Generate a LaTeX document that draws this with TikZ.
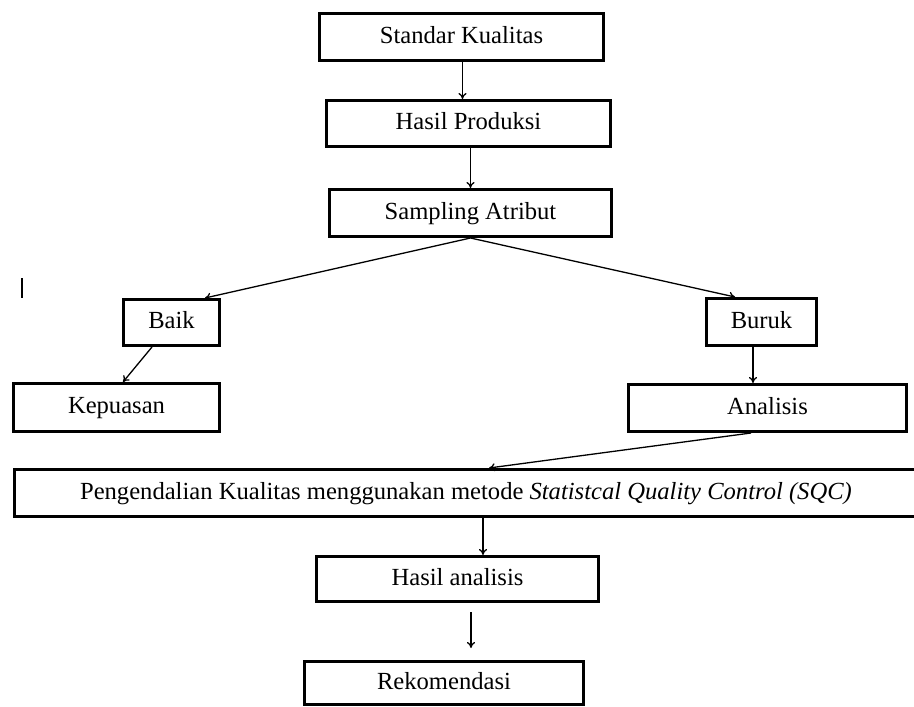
\documentclass[tikz,border=0pt]{standalone}
\usepackage{fontspec}
\setmainfont{Liberation Serif}
\usetikzlibrary{arrows.meta,calc}
\begin{document}
\begin{tikzpicture}[x=1pt,y=-1pt,
  box/.style={draw, line width=3pt, inner sep=0pt, font=\fontsize{24.6}{28}\selectfont, text height=17pt, text depth=5pt, anchor=center},
  arr/.style={line width=1.3pt, -{To[length=6pt,width=8pt]}},
  ln/.style={line width=1.3pt}]
\clip (0,0) rectangle (914,707);
\fill[white] (0,0) rectangle (914,707);
\node[box, minimum width=284pt, minimum height=47pt] (std) at (461.5,37) {Standar Kualitas};
\node[box, minimum width=284pt, minimum height=46pt] (hasil) at (468.5,123.5) {Hasil Produksi};
\node[box, minimum width=282pt, minimum height=47pt] (samp) at (470.5,213) {Sampling Atribut};
\node[box, minimum width=96pt, minimum height=46pt] (baik) at (171.5,322.5) {Baik};
\node[box, minimum width=206pt, minimum height=48pt] (kep) at (116.5,407.5) {Kepuasan};
\node[box, minimum width=110pt, minimum height=47pt] (buruk) at (761.5,322) {Buruk};
\node[box, minimum width=278pt, minimum height=47pt] (anal) at (767.5,408) {Analisis};
\node[box, minimum width=904pt, minimum height=47pt] (sqc) at (466,493) {Pengendalian Kualitas menggunakan metode \textit{Statistcal Quality Control (SQC)}};
\node[box, minimum width=282pt, minimum height=45pt] (hasilan) at (457.5,579) {Hasil analisis};
\node[box, minimum width=279pt, minimum height=43pt] (rek) at (444,683) {Rekomendasi};
% connectors
\draw[arr] ([xshift=1pt]std.south) -- ([xshift=1pt]std.south |- hasil.north);
\draw[arr] (samp.north |- hasil.south) -- (samp.north);
\draw[arr] (samp.south) -- ([xshift=33.5pt]baik.north);
\draw[arr] (samp.south) -- ([xshift=-26.5pt]buruk.north);
\draw[arr] ([xshift=-19.5pt]baik.south) -- ([xshift=6.5pt]kep.north);
\draw[arr] ([xshift=-8.5pt]buruk.south) -- ([xshift=-8.5pt]buruk.south |- anal.north);
\draw[arr] ([xshift=-16.5pt]anal.south) -- ([xshift=23pt]sqc.north);
\draw[arr] ([xshift=17pt]sqc.south) -- ([xshift=17pt]sqc.south |- hasilan.north);
\draw[arr, shorten <=9pt, shorten >=12pt] ([xshift=13.5pt]hasilan.south) -- ([xshift=13.5pt]hasilan.south |- rek.north);
% stray cursor mark
\draw[line width=1.5pt] (22,278) -- (22,298);
\end{tikzpicture}
\end{document}
